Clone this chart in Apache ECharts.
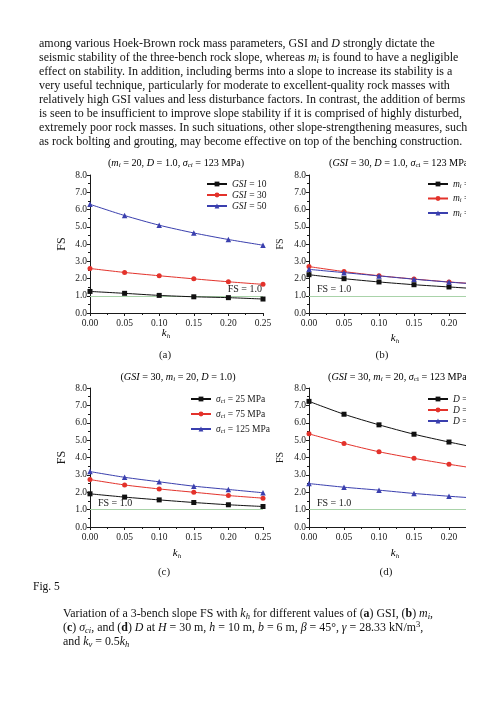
<!DOCTYPE html>
<html>
<head>
<meta charset="utf-8">
<script src="https://cdn.jsdelivr.net/npm/echarts@6/dist/echarts.min.js"></script>
<style>
  body { margin: 0; background: #fff; width: 500px; height: 706px; overflow: hidden; position: relative; }
  #chart { position: absolute; left: 0; top: 0; width: 466px; height: 706px; }
  .txt { position: absolute; font-family: 'Liberation Serif', serif; font-size: 12px; line-height: 14px; color: #111; white-space: nowrap; }
  .txt sub { font-size: 0.72em; vertical-align: -0.25em; line-height: 0; }
  .txt sup { font-size: 0.72em; vertical-align: 0.45em; line-height: 0; }
</style>
</head>
<body>
<div id="chart"></div>

<div class="txt" style="left:39px; top:36px;">
among various Hoek-Brown rock mass parameters, GSI and <i>D</i> strongly dictate the<br>
seismic stability of the three-bench rock slope, whereas <i>m<sub>i</sub></i> is found to have a negligible<br>
effect on stability. In addition, including berms into a slope to increase its stability is a<br>
very useful technique, particularly for moderate to excellent-quality rock masses with<br>
relatively high GSI values and less disturbance factors. In contrast, the addition of berms<br>
is seen to be insufficient to improve slope stability if it is comprised of highly disturbed,<br>
extremely poor rock masses. In such situations, other slope-strengthening measures, such<br>
as rock bolting and grouting, may become effective on top of the benching construction.
</div>

<div class="txt" style="left:33px; top:579px; font-size:11.5px;">Fig. 5</div>

<div class="txt" style="left:63px; top:606px; font-size:11.9px;">
Variation of a 3-bench slope FS with <i>k<sub>h</sub></i> for different values of (<b>a</b>) GSI, (<b>b</b>) <i>m<sub>i</sub></i>,<br>
(<b>c</b>) <i>σ<sub>ci</sub></i>, and (<b>d</b>) <i>D</i> at <i>H</i> = 30 m, <i>h</i> = 10 m, <i>b</i> = 6 m, <i>β</i> = 45°, <i>γ</i> = 28.33 kN/m<sup>3</sup>,<br>
and <i>k<sub>v</sub></i> = 0.5<i>k<sub>h</sub></i>
</div>

<script>
// seismic coefficient k_h (x values, shared by all panels)
const KH = [0, 0.05, 0.10, 0.15, 0.20, 0.25];

// (a) GSI
const FS_GSI10 = [1.25, 1.14, 1.02, 0.94, 0.89, 0.81];
const FS_GSI30 = [2.58, 2.35, 2.16, 1.98, 1.81, 1.66];
const FS_GSI50 = [6.30, 5.65, 5.09, 4.64, 4.26, 3.93];

// (b) m_i
const FS_MI5 = [2.22, 1.99, 1.80, 1.64, 1.51, 1.38];
const FS_MI20 = [2.69, 2.40, 2.16, 1.97, 1.80, 1.66];
const FS_MI35 = [2.53, 2.34, 2.15, 1.96, 1.79, 1.65];

// (c) sigma_ci
const FS_SC25 = [1.91, 1.72, 1.56, 1.41, 1.28, 1.18];
const FS_SC75 = [2.73, 2.42, 2.19, 2.00, 1.81, 1.66];
const FS_SC125 = [3.19, 2.86, 2.60, 2.35, 2.16, 1.97];

// (d) D
const FS_D0 = [7.23, 6.49, 5.88, 5.34, 4.89, 4.48];
const FS_D05 = [5.36, 4.81, 4.33, 3.95, 3.61, 3.30];
const FS_D1 = [2.50, 2.29, 2.12, 1.93, 1.77, 1.63];

const Y_TICKS = { min: 0, max: 8, interval: 1 };
const X_TICKS = { min: 0, max: 0.25, interval: 0.05 };

const FONT = 'Liberation Serif';
const INK = '#1a1a1a';
const BLACK = '#111111';
const RED = '#e3322b';
const BLUE = '#3a3fae';
const GREEN = '#a9d3a9';

const rich = {
    i: { fontStyle: 'italic', fontFamily: FONT, fontSize: 9.5, lineHeight: 11, color: INK },
    s: { fontFamily: FONT, fontSize: 6.5, lineHeight: 6, verticalAlign: 'bottom', color: INK },
    si: { fontStyle: 'italic', fontFamily: FONT, fontSize: 6.5, lineHeight: 6, verticalAlign: 'bottom', color: INK },
    n: { fontFamily: FONT, fontSize: 9.5, lineHeight: 11, color: INK },
};
const titleRich = {
    i: { fontStyle: 'italic', fontFamily: FONT, fontSize: 10.2, lineHeight: 12, color: INK },
    s: { fontFamily: FONT, fontSize: 7, lineHeight: 6, verticalAlign: 'bottom', color: INK },
    si: { fontStyle: 'italic', fontFamily: FONT, fontSize: 7, lineHeight: 6, verticalAlign: 'bottom', color: INK },
    n: { fontFamily: FONT, fontSize: 10.2, lineHeight: 12, color: INK },
};
const khRich = {
    i: { fontStyle: 'italic', fontFamily: FONT, fontSize: 11, lineHeight: 13, color: INK },
    si: { fontStyle: 'italic', fontFamily: FONT, fontSize: 7, lineHeight: 6, verticalAlign: 'bottom', color: INK },
};

// panel boxes (page pixels)
const panels = [
    { left: 90, top: 175, width: 173, height: 138 },
    { left: 309, top: 175, width: 175, height: 138 },
    { left: 90, top: 388, width: 173, height: 139 },
    { left: 309, top: 388, width: 175, height: 139 },
];

const legendNames = {
    'GSI = 10': '{i|GSI}{n| = 10}',
    'GSI = 30': '{i|GSI}{n| = 30}',
    'GSI = 50': '{i|GSI}{n| = 50}',
    'mi = 5': '{i|m}{si|i}{n| = 5}',
    'mi = 20': '{i|m}{si|i}{n| = 20}',
    'mi = 35': '{i|m}{si|i}{n| = 35}',
    'sci = 25 MPa': '{i|σ}{si|ci}{n| = 25 MPa}',
    'sci = 75 MPa': '{i|σ}{si|ci}{n| = 75 MPa}',
    'sci = 125 MPa': '{i|σ}{si|ci}{n| = 125 MPa}',
    'D = 0': '{i|D}{n| = 0}',
    'D = 0.5': '{i|D}{n| = 0.5}',
    'D = 1.0': '{i|D}{n| = 1.0}',
};

const groups = [
    { names: ['GSI = 10', 'GSI = 30', 'GSI = 50'], data: [FS_GSI10, FS_GSI30, FS_GSI50], fsPos: 'insideEndTop', fsDist: [1, 1] },
    { names: ['mi = 5', 'mi = 20', 'mi = 35'], data: [FS_MI5, FS_MI20, FS_MI35], fsPos: 'insideStartTop', fsDist: [8, 1] },
    { names: ['sci = 25 MPa', 'sci = 75 MPa', 'sci = 125 MPa'], data: [FS_SC25, FS_SC75, FS_SC125], fsPos: 'insideStartTop', fsDist: [8, 1] },
    { names: ['D = 0', 'D = 0.5', 'D = 1.0'], data: [FS_D0, FS_D05, FS_D1], fsPos: 'insideStartTop', fsDist: [8, 1] },
];

const styles = [
    { color: BLACK, symbol: 'rect', size: 5 },
    { color: RED, symbol: 'circle', size: 5 },
    { color: BLUE, symbol: 'triangle', size: 5.5 },
];

const legendPos = [
    { left: 206, top: 178.5, gap: 0 },
    { left: 427, top: 178.5, gap: 3.5 },
    { left: 190, top: 393.5, gap: 4 },
    { left: 427, top: 393.5, gap: 0 },
];

const axisLabel = { color: INK, fontFamily: FONT, fontSize: 9.5 };

const option = {
    animation: false,
    backgroundColor: '#fff',
    grid: panels.map((p) => ({
        left: p.left, top: p.top, width: p.width, height: p.height,
        containLabel: false, outerBoundsMode: 'none',
    })),
    xAxis: panels.map((p, i) => ({
        type: 'value',
        gridIndex: i,
        ...X_TICKS,
        axisLine: { show: true, onZero: false, lineStyle: { color: INK, width: 1 } },
        axisTick: { show: true, length: 3, lineStyle: { color: INK } },
        minorTick: { show: true, splitNumber: 2, length: 2, lineStyle: { color: INK } },
        axisLabel: { ...axisLabel, margin: 5, formatter: (v) => v.toFixed(2) },
        splitLine: { show: false },
    })),
    yAxis: panels.map((p, i) => ({
        type: 'value',
        gridIndex: i,
        ...Y_TICKS,
        name: 'FS',
        nameLocation: 'middle',
        nameGap: i % 2 === 0 ? 22 : 24,
        nameTextStyle: { color: INK, fontFamily: FONT, fontSize: i % 2 === 0 ? 12 : 10 },
        axisLine: { show: true, lineStyle: { color: INK, width: 1 } },
        axisTick: { show: true, length: 3, lineStyle: { color: INK } },
        minorTick: { show: true, splitNumber: 2, length: 2, lineStyle: { color: INK } },
        axisLabel: { ...axisLabel, margin: 3, formatter: (v) => v.toFixed(1) },
        splitLine: { show: false },
    })),
    legend: groups.map((g, i) => ({
        data: g.names,
        orient: 'vertical',
        left: legendPos[i].left,
        top: legendPos[i].top,
        itemGap: legendPos[i].gap,
        itemWidth: 20,
        itemHeight: 6,
        padding: 0,
        selectedMode: false,
        textStyle: { fontFamily: FONT, fontSize: 9.5, lineHeight: 11, color: INK, rich },
        formatter: (name) => legendNames[name],
    })),
    series: groups.flatMap((g, gi) =>
        g.names.map((name, si) => ({
            name,
            type: 'line',
            xAxisIndex: gi,
            yAxisIndex: gi,
            data: KH.map((k, j) => [k, g.data[si][j]]),
            smooth: 0.25,
            symbol: styles[si].symbol,
            symbolSize: styles[si].size,
            lineStyle: { color: styles[si].color, width: 1 },
            itemStyle: { color: styles[si].color },
            z: 3 + si,
            markLine: si === 0 ? {
                silent: true,
                symbol: ['none', 'none'],
                lineStyle: { color: GREEN, type: 'solid', width: 1 },
                label: {
                    show: true,
                    position: g.fsPos,
                    formatter: 'FS = 1.0',
                    color: INK,
                    fontFamily: FONT,
                    fontSize: 10,
                    distance: g.fsDist,
                },
                data: [{ yAxis: 1 }],
                z: 2,
            } : undefined,
        }))
    ),
    graphic: [
        { type: 'text', x: 176, y: 163, style: { text: '{n|(}{i|m}{si|i}{n| = 20, }{i|D}{n| = 1.0, }{i|σ}{si|ci}{n| = 123 MPa)}', rich: titleRich, align: 'center', verticalAlign: 'middle' } },
        { type: 'text', x: 329, y: 163, style: { text: '{n|(}{i|GSI}{n| = 30, }{i|D}{n| = 1.0, }{i|σ}{s|ci}{n| = 123 MPa)}', rich: titleRich, align: 'left', verticalAlign: 'middle' } },
        { type: 'text', x: 178, y: 377, style: { text: '{n|(}{i|GSI}{n| = 30, }{i|m}{si|i}{n| = 20, }{i|D}{n| = 1.0)}', rich: titleRich, align: 'center', verticalAlign: 'middle' } },
        { type: 'text', x: 328, y: 377, style: { text: '{n|(}{i|GSI}{n| = 30, }{i|m}{si|i}{n| = 20, }{i|σ}{s|ci}{n| = 123 MPa)}', rich: titleRich, align: 'left', verticalAlign: 'middle' } },
        // x axis names
        { type: 'text', x: 166, y: 333, style: { text: '{i|k}{si|h}', rich: khRich, align: 'center', verticalAlign: 'middle' } },
        { type: 'text', x: 395, y: 338, style: { text: '{i|k}{si|h}', rich: khRich, align: 'center', verticalAlign: 'middle' } },
        { type: 'text', x: 177, y: 553, style: { text: '{i|k}{si|h}', rich: khRich, align: 'center', verticalAlign: 'middle' } },
        { type: 'text', x: 395, y: 553, style: { text: '{i|k}{si|h}', rich: khRich, align: 'center', verticalAlign: 'middle' } },
        // panel letters
        { type: 'text', x: 165, y: 355, style: { text: '(a)', fill: INK, font: '11px "Liberation Serif"', align: 'center', verticalAlign: 'middle' } },
        { type: 'text', x: 382, y: 355, style: { text: '(b)', fill: INK, font: '11px "Liberation Serif"', align: 'center', verticalAlign: 'middle' } },
        { type: 'text', x: 164, y: 572, style: { text: '(c)', fill: INK, font: '11px "Liberation Serif"', align: 'center', verticalAlign: 'middle' } },
        { type: 'text', x: 386, y: 572, style: { text: '(d)', fill: INK, font: '11px "Liberation Serif"', align: 'center', verticalAlign: 'middle' } },
    ],
};

const chart = echarts.init(document.getElementById('chart'), null, { renderer: 'canvas' });
chart.setOption(option);
</script>
</body>
</html>
